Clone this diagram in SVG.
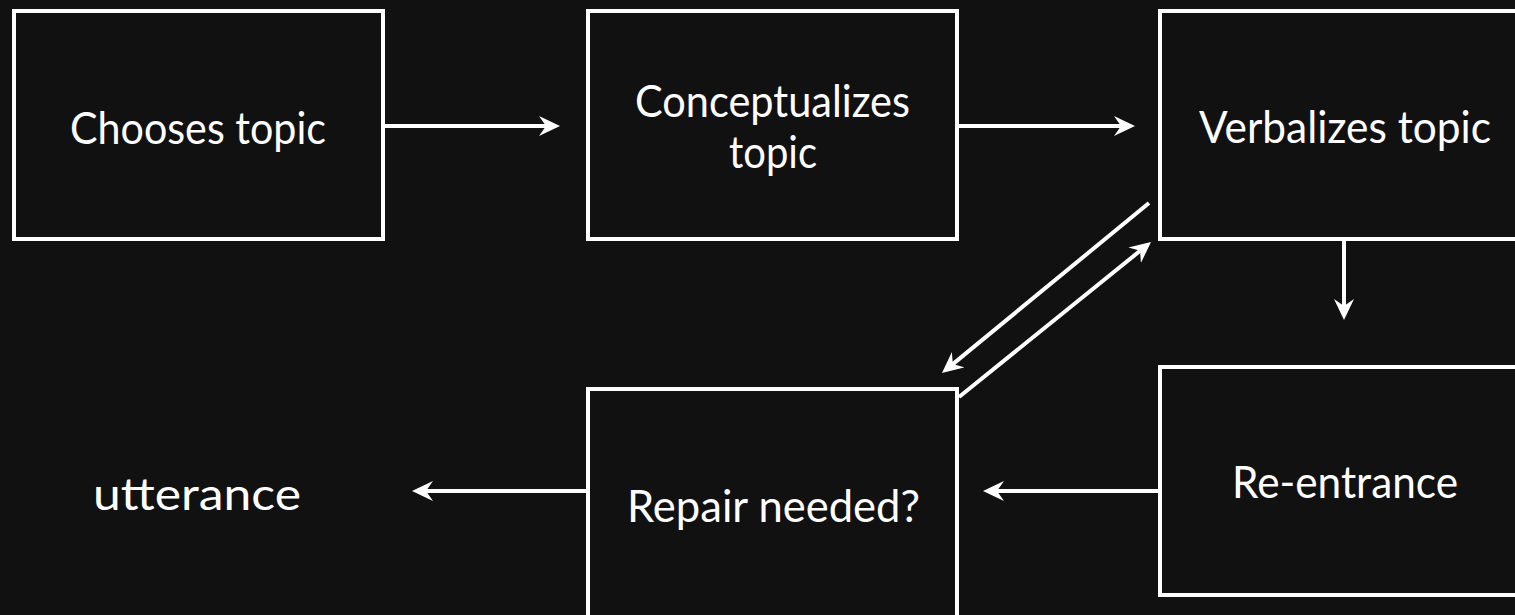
<svg xmlns="http://www.w3.org/2000/svg" width="1515" height="615" viewBox="0 0 1515 615">
  <style>
    .box { fill: #111111; stroke: #ffffff; stroke-width: 4; }
    .lbl { fill: #ffffff; font-family: Lato, "Open Sans", "Liberation Sans", sans-serif; font-size: 44px; text-anchor: middle; }
    .conn { stroke: #ffffff; stroke-width: 4; fill: none; marker-end: url(#arrow); }
  </style>
  <defs>
    <marker id="arrow" markerUnits="userSpaceOnUse" markerWidth="22" markerHeight="22" refX="7" refY="10" orient="auto" viewBox="0 0 22 22">
      <path d="M0,0 L21,10 L0,20 L7,10 Z" fill="#ffffff"/>
    </marker>
  </defs>
  <rect x="0" y="0" width="1515" height="615" fill="#111111"/>

  <g id="chooses">
    <rect class="box" x="14" y="11" width="369" height="228"/>
    <text class="lbl" x="198" y="144" textLength="256" lengthAdjust="spacingAndGlyphs">Chooses topic</text>
  </g>
  <g id="conceptualizes">
    <rect class="box" x="588" y="11" width="369" height="228"/>
    <text class="lbl" x="772.5" y="117" textLength="275" lengthAdjust="spacingAndGlyphs">Conceptualizes</text>
    <text class="lbl" x="773" y="168" textLength="88" lengthAdjust="spacingAndGlyphs">topic</text>
  </g>
  <g id="verbalizes">
    <rect class="box" x="1160" y="11" width="369" height="228"/>
    <text class="lbl" x="1345" y="143" textLength="292" lengthAdjust="spacingAndGlyphs">Verbalizes topic</text>
  </g>
  <g id="reentrance">
    <rect class="box" x="1160" y="367" width="369" height="228"/>
    <text class="lbl" x="1345" y="498" textLength="226" lengthAdjust="spacingAndGlyphs">Re-entrance</text>
  </g>
  <g id="repair">
    <rect class="box" x="588" y="389" width="369" height="240"/>
    <text class="lbl" x="773.5" y="522" textLength="293" lengthAdjust="spacingAndGlyphs">Repair needed?</text>
  </g>
  <g id="utterance">
    <text class="lbl" x="197" y="510" textLength="208" lengthAdjust="spacingAndGlyphs">utterance</text>
  </g>

  <g id="connectors">
    <line class="conn" x1="385" y1="126" x2="546" y2="126"/>
    <line class="conn" x1="959" y1="126" x2="1121" y2="126"/>
    <line class="conn" x1="1344" y1="241" x2="1344" y2="306"/>
    <line class="conn" x1="1158" y1="491" x2="997" y2="491"/>
    <line class="conn" x1="586" y1="491" x2="426" y2="491"/>
    <line class="conn" x1="1149" y1="203" x2="952.8" y2="364.1"/>
    <line class="conn" x1="959" y1="397" x2="1140.1" y2="250.8"/>
  </g>
</svg>
